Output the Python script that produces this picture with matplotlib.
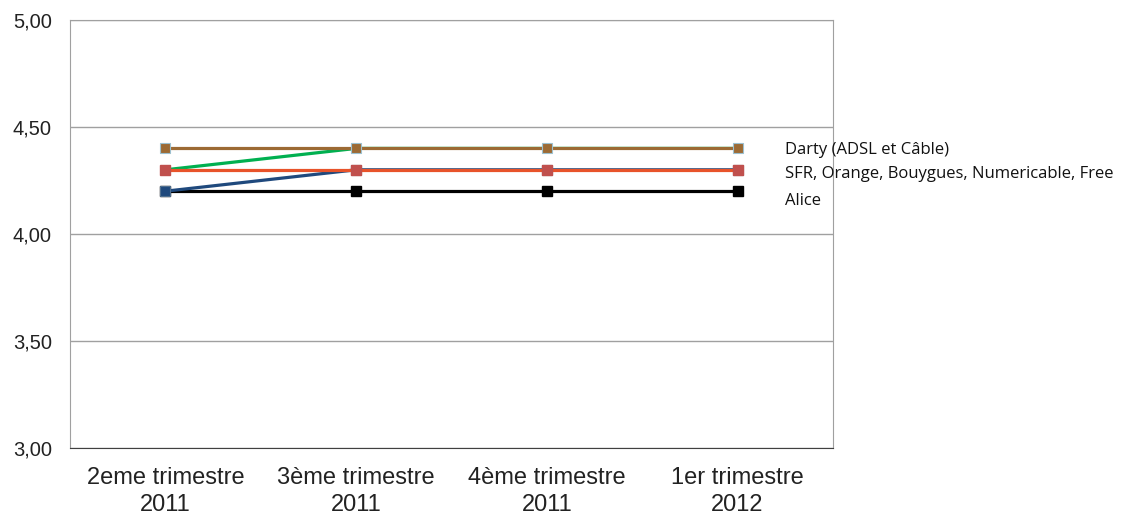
import matplotlib
matplotlib.use("Agg")
import matplotlib.pyplot as plt

categories = ["2eme trimestre\n2011", "3ème trimestre\n2011", "4ème trimestre\n2011", "1er trimestre\n2012"]
alice = [4.2, 4.2, 4.2, 4.2]
blue_series = [4.2, 4.3, 4.3, 4.3]
green_series = [4.3, 4.4, 4.4, 4.4]
sfr = [4.3, 4.3, 4.3, 4.3]
darty = [4.4, 4.4, 4.4, 4.4]
yticks = [3.0, 3.5, 4.0, 4.5, 5.0]
ytick_labels = ["3,00", "3,50", "4,00", "4,50", "5,00"]

fig = plt.figure(figsize=(11.41, 5.18), dpi=100)
ax = fig.add_axes([70/1141, 1-448/518, (833-70)/1141, (448-20)/518])
x = list(range(len(categories)))

ms = 7.5
lw = 2.3
ax.plot(x, alice, color="black", lw=lw, marker="s", ms=ms, mfc="black", mec="black", zorder=3)
ax.plot(x, blue_series, color="#1F497D", lw=lw, marker="s", ms=ms, mfc="#1F497D", mec="#4F6F8F", mew=0.8, zorder=4)
ax.plot(x, green_series, color="#00B050", lw=lw, zorder=5)
ax.plot(x, sfr, color="#E8532A", lw=lw, marker="s", ms=ms, mfc="#C0504D", mec="#C0504D", zorder=6)
ax.plot(x, darty, color="#9C6A34", lw=lw, marker="s", ms=ms, mfc="#9C6A34", mec="#9CC0D0", mew=0.8, zorder=7)

ax.set_xlim(-0.5, 3.5)
ax.set_ylim(3.0, 5.0)
ax.set_yticks(yticks)
ax.set_yticklabels(ytick_labels)
ax.set_xticks(x)
ax.set_xticklabels(categories, linespacing=1.25)
ax.tick_params(axis="both", length=0)
ax.tick_params(axis="y", labelsize=14.5, pad=13, colors="#222222")
ax.tick_params(axis="x", labelsize=17, pad=14, colors="#222222")
for lab in ax.get_xticklabels() + ax.get_yticklabels():
    lab.set_family(["Liberation Sans", "DejaVu Sans"])

ax.grid(axis="y", color="#A0A0A0", lw=1)
ax.set_axisbelow(True)
for s in ["top", "right", "left"]:
    ax.spines[s].set_color("#A0A0A0")
ax.spines["bottom"].set_color("#404040")

labels = [("Darty (ADSL et Câble)", darty[-1], -1.5), ("SFR, Orange, Bouygues, Numericable, Free", sfr[-1], -3),
          ("Alice", alice[-1], -7)]
for txt, yv, dy in labels:
    ax.annotate(txt, xy=(3, yv), xytext=(34, dy), textcoords="offset points", va="center", ha="left",
                fontsize=12, family=["Open Sans", "DejaVu Sans"], color="#111111", annotation_clip=False)

fig.savefig("out.png", dpi=100)
